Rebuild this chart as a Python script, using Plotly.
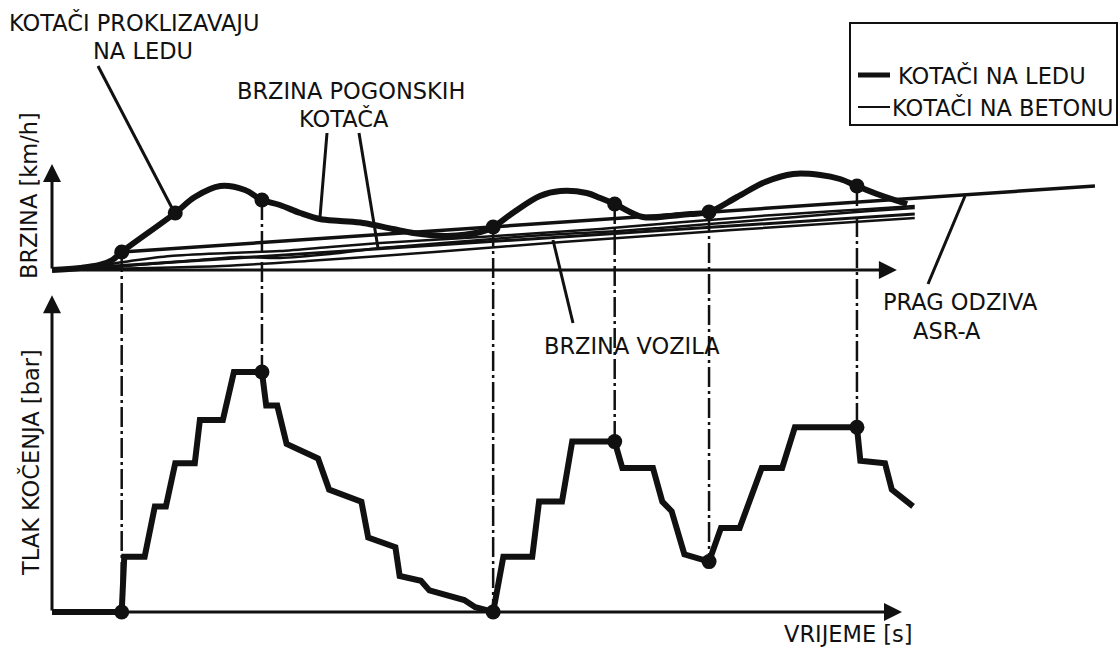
import plotly.graph_objects as go

# ---------------------------------------------------------------- data
# key moments (s): ASR reacts / releases at these instants
event_t = [8.2, 24.7, 51.9, 66.2, 77.3, 94.7]

# driven wheels on ice (km/h)
ice_t = [0, 3.3, 5.6, 7.1, 8.2, 14.5, 16.8, 19.8, 22.7, 24.7, 26.8, 29.2, 31.5, 33.9,
         36.6, 40.1, 42.5, 46.5, 50.4, 51.9, 54.2, 57.4, 59.8, 62.9, 64.5, 66.2, 69.5,
         72.7, 75.1, 77.3, 80.6, 83.9, 87.2, 90.4, 92.7, 94.7, 97.4, 100.6]
ice_v = [0, 2, 5, 10, 18, 57, 73, 84, 80, 70, 65, 57, 51, 49,
         47, 41, 37, 34, 38, 43, 57, 74, 79, 77, 72, 66, 53,
         54, 56, 58, 73, 88, 96, 95, 91, 84, 75, 66]
ice_dot_t = [8.2, 14.5, 24.7, 51.9, 66.2, 77.3, 94.7]
ice_dot_v = [18, 57, 70, 43, 66, 58, 84]

# driven wheels on concrete (km/h)
concrete_a_t = [0, 4.5, 9.2, 13.9, 20.9, 26.8, 32.7, 38.6, 44.5, 50.4, 57.4, 64.5,
                71.5, 77.3, 83.3, 90.4, 96.2, 101.5]
concrete_a_v = [0, 3, 9, 14, 17, 19, 23, 27, 30, 33, 37, 41, 46, 50, 54, 58, 61, 64]
concrete_b_t = [0, 5.6, 11.5, 17.4, 22.1, 26.8, 32.7, 38.6, 44.5, 50.4, 56.2, 62.1,
                66.8, 71.5, 77.3, 83.3, 90.4, 96.2, 101.5]
concrete_b_v = [0, 2, 6, 10, 13, 12, 16, 22, 26, 30, 34, 37, 39, 42, 46, 50, 55, 59, 62]

# vehicle speed (km/h)
vehicle_t = [0, 101.5]
vehicle_v = [0, 56]
vehicle_low_t = [0, 20, 30, 45, 60, 80, 101.5]
vehicle_low_v = [0, 4, 9, 18, 28, 40, 52]

# ASR response threshold (km/h)
threshold_t = [8.2, 122.7]
threshold_v = [18, 84]

# brake pressure (bar, relative scale)
press_t = [0, 8.2, 8.5, 10.9, 12.1, 13.4, 14.5, 16.8, 17.4, 20.1, 21.4, 24.7, 25.2,
           26.5, 27.6, 31.3, 32.6, 36.4, 37.2, 40.4, 40.9, 43.4, 44.4, 48.5, 49.8,
           51.9, 53.1, 56.5, 57.3, 60.0, 61.2, 66.2, 67.1, 70.7, 71.8, 72.9, 74.4,
           77.3, 78.7, 80.9, 83.5, 85.9, 87.4, 94.7, 95.1, 98.0, 98.8, 101.3]
press_p = [0, 0, 23, 23, 44, 44, 62, 62, 80, 80, 100, 100, 86,
           86, 70, 64, 51, 46, 31, 27, 15, 13, 9, 5, 2,
           0, 23, 23, 46, 46, 71, 71, 60, 60, 46, 42, 24,
           21, 35, 35, 60, 60, 77, 77, 63, 62, 51, 44]
press_dot_p = [0, 100, 0, 71, 21, 77]
speed_dot_v = [18, 70, 43, 66, 58, 84]

# ---------------------------------------------------------------- layout frame
W, H = 1120, 649
X0_PX, PX_PER_S = 52, 8.5                 # time origin and scale
V0_PX, PX_PER_KMH = 270, 1.0               # speed panel baseline
P0_PX, PX_PER_BAR = 612, 2.4               # pressure panel baseline

x_range = [-X0_PX / PX_PER_S, (W - X0_PX) / PX_PER_S]
v_range = [(V0_PX - H) / PX_PER_KMH, V0_PX / PX_PER_KMH]
p_range = [(P0_PX - H) / PX_PER_BAR, P0_PX / PX_PER_BAR]


def xp(t):
    return (t - x_range[0]) / (x_range[1] - x_range[0])


def yp_speed(v):
    return (v - v_range[0]) / (v_range[1] - v_range[0])


def yp_press(p):
    return (p - p_range[0]) / (p_range[1] - p_range[0])


def pix(x, y):
    return x / W, 1 - y / H


INK = "#111111"
FONT = dict(family="DejaVu Sans, Verdana, sans-serif", size=22.5, color=INK)

fig = go.Figure()

# ---------------------------------------------------------------- speed panel
for tt, vv, w in [(concrete_a_t, concrete_a_v, 2.5), (concrete_b_t, concrete_b_v, 2.5),
                  (vehicle_low_t, vehicle_low_v, 2.5), (vehicle_t, vehicle_v, 3)]:
    fig.add_trace(go.Scatter(x=tt, y=vv, mode="lines", yaxis="y",
                             line=dict(color=INK, width=w, shape="spline", smoothing=0.8),
                             hoverinfo="skip"))

fig.add_trace(go.Scatter(x=threshold_t, y=threshold_v, mode="lines", yaxis="y",
                         line=dict(color=INK, width=3.5), hoverinfo="skip"))

fig.add_trace(go.Scatter(x=ice_t, y=ice_v, mode="lines", yaxis="y",
                         line=dict(color=INK, width=6, shape="spline", smoothing=1.0),
                         hoverinfo="skip"))
fig.add_trace(go.Scatter(x=ice_dot_t, y=ice_dot_v, mode="markers", yaxis="y",
                         marker=dict(color=INK, size=15), hoverinfo="skip"))

# ---------------------------------------------------------------- pressure panel
fig.add_trace(go.Scatter(x=press_t, y=press_p, mode="lines", yaxis="y2",
                         line=dict(color=INK, width=6), hoverinfo="skip"))
fig.add_trace(go.Scatter(x=event_t, y=press_dot_p, mode="markers", yaxis="y2",
                         marker=dict(color=INK, size=15), hoverinfo="skip"))

shapes = []
annotations = []

# dash-dot links between the two panels
for t, v, p in zip(event_t, speed_dot_v, press_dot_p):
    shapes.append(dict(type="line", xref="paper", yref="paper",
                       x0=xp(t), x1=xp(t), y0=yp_speed(v), y1=yp_press(p),
                       line=dict(color=INK, width=2.5, dash="20px,4px,3px,4px")))


# axes with arrow heads
def axis_arrow(x0, y0, x1, y1, yref):
    annotations.append(dict(x=x1, y=y1, ax=x0, ay=y0, xref="x", yref=yref,
                            axref="x", ayref=yref, showarrow=True, text="",
                            arrowhead=2, arrowsize=1.2, arrowwidth=3, arrowcolor=INK))


axis_arrow(0, 0, 0, 106, "y")
axis_arrow(0, 0, 99.4, 0, "y")
axis_arrow(0, 0, 0, 132, "y2")
axis_arrow(0, 0, 100.0, 0, "y2")


# leader lines from the labels
def leader(x0, y0, x1, y1):
    a, b = pix(x0, y0)
    c, d = pix(x1, y1)
    shapes.append(dict(type="line", xref="paper", yref="paper", x0=a, y0=b, x1=c, y1=d,
                       line=dict(color=INK, width=3)))


leader(98, 66, 172, 208)
leader(327, 133, 320, 217)
leader(359, 133, 378, 248)
leader(553, 240, 573, 323)
leader(965, 196, 928, 284)


def label(text, x, y, anchor="left", angle=0):
    a, b = pix(x, y)
    annotations.append(dict(text=text, x=a, y=b, xref="paper", yref="paper",
                            xanchor=anchor, yanchor="middle", showarrow=False,
                            textangle=angle, font=FONT))


label("KOTAČI PROKLIZAVAJU", 7, 23)
label("NA LEDU", 143, 51, "center")
label("BRZINA POGONSKIH", 351, 91, "center")
label("KOTAČA", 344, 118, "center")
label("BRZINA VOZILA", 542, 346)
label("PRAG ODZIVA", 881, 302)
label("ASR-A", 911, 331)
label("VRIJEME [s]", 782, 634)
label("BRZINA [km/h]", 29, 196, "center", -90)
label("TLAK KOČENJA [bar]", 30, 463, "center", -90)

# legend box
bx0, by0 = pix(850, 23)
bx1, by1 = pix(1117, 125)
shapes.append(dict(type="rect", xref="paper", yref="paper", x0=bx0, y0=by0, x1=bx1, y1=by1,
                   line=dict(color=INK, width=2)))
sample_a = pix(858, 75), pix(890, 75)
sample_b = pix(858, 107), pix(890, 107)
shapes.append(dict(type="line", xref="paper", yref="paper",
                   x0=sample_a[0][0], y0=sample_a[0][1], x1=sample_a[1][0], y1=sample_a[1][1],
                   line=dict(color=INK, width=5)))
shapes.append(dict(type="line", xref="paper", yref="paper",
                   x0=sample_b[0][0], y0=sample_b[0][1], x1=sample_b[1][0], y1=sample_b[1][1],
                   line=dict(color=INK, width=2)))
label("KOTAČI NA LEDU", 896, 75)
label("KOTAČI NA BETONU", 890, 107)

fig.update_layout(
    width=W, height=H, autosize=False,
    margin=dict(l=0, r=0, t=0, b=0),
    paper_bgcolor="white", plot_bgcolor="white",
    showlegend=False,
    xaxis=dict(range=x_range, visible=False, domain=[0, 1]),
    yaxis=dict(range=v_range, visible=False, domain=[0, 1]),
    yaxis2=dict(range=p_range, visible=False, overlaying="y"),
    shapes=shapes,
    annotations=annotations,
)

fig.write_html("out.html")
